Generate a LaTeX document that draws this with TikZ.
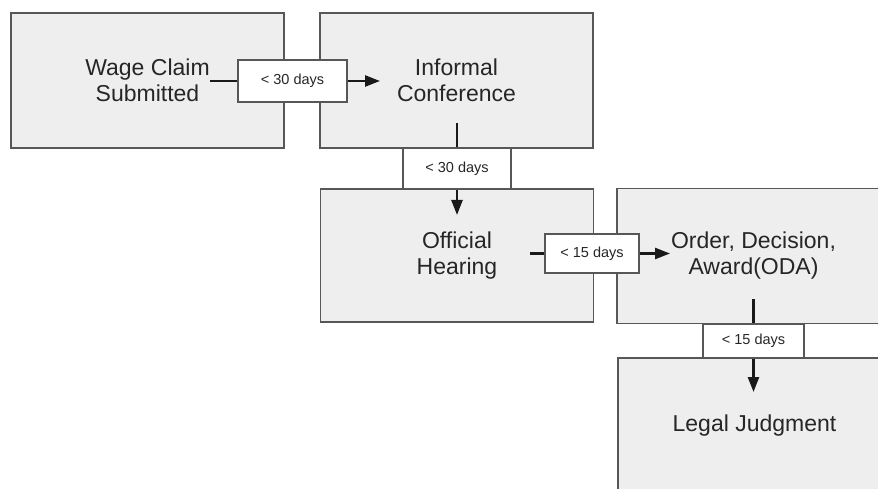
\documentclass[tikz,border=0pt]{standalone}
\usepackage{fontspec}
\setmainfont{Liberation Sans}
\usetikzlibrary{arrows.meta}
\definecolor{stagefill}{HTML}{EEEEEE}
\definecolor{stageline}{HTML}{575757}
\tikzset{stage/.style={draw=stageline, line width=1.3pt, fill=stagefill, minimum width=273pt,
        minimum height=135pt, inner sep=0pt, align=center, text=black!85,
        font=\fontsize{23}{26}\selectfont}}
\tikzset{gap/.style={draw=stageline, line width=1.3pt, fill=white, inner sep=0pt,
        text=black!85, font=\fontsize{14.5}{16}\selectfont}}
\tikzset{link/.style={line width=2.4pt, black!90}}

\begin{document}
\begin{tikzpicture}[x=1pt, y=1pt, >={Triangle[length=15pt, width=11pt]}]
    \path[use as bounding box, clip] (0,0) rectangle (878,-489);

    \node (wage) at (147.5, -80.5) [stage] {Wage Claim\\Submitted};
    \node (info) at (456.5, -80.5) [stage] {Informal\\Conference};
    \node (hear) at (457.0, -255.5) [stage, minimum height=133pt] {Official\\Hearing};
    \node (oda) at (753.5, -256.0) [stage] {Order, Decision,\\Award(ODA)};
    \node (legal) at (754.5, -425.5) [stage] {Legal Judgment};

    \node (gap1) at (292.5, -81.0) [gap, minimum width=109pt, minimum height=42pt] {< 30 days};
    \node (gap2) at (457.0, -168.5) [gap, minimum width=108pt, minimum height=41pt] {< 30 days};
    \node (gap3) at (592.0, -253.5) [gap, minimum width=94pt, minimum height=39pt] {< 15 days};
    \node (gap4) at (753.5, -341.0) [gap, minimum width=101pt, minimum height=34pt] {< 15 days};

    \coordinate (wageend) at (210, -81);
    \coordinate (infotip) at (380, -81);
    \coordinate (infoend) at (457, -123);
    \coordinate (heartip) at (457, -215);
    \coordinate (hearend) at (530, -253.5);
    \coordinate (odatip) at (670, -253.5);
    \coordinate (odaend) at (753.5, -299);
    \coordinate (legaltip) at (753.5, -392);

    \draw (wageend) edge [link] (gap1);
    \draw (gap1) edge [link, ->] (infotip);
    \draw (infoend) edge [link] (gap2);
    \draw (gap2) edge [link, ->] (heartip);
    \draw (hearend) edge [link] (gap3);
    \draw (gap3) edge [link, ->] (odatip);
    \draw (odaend) edge [link] (gap4);
    \draw (gap4) edge [link, ->] (legaltip);
\end{tikzpicture}
\end{document}
